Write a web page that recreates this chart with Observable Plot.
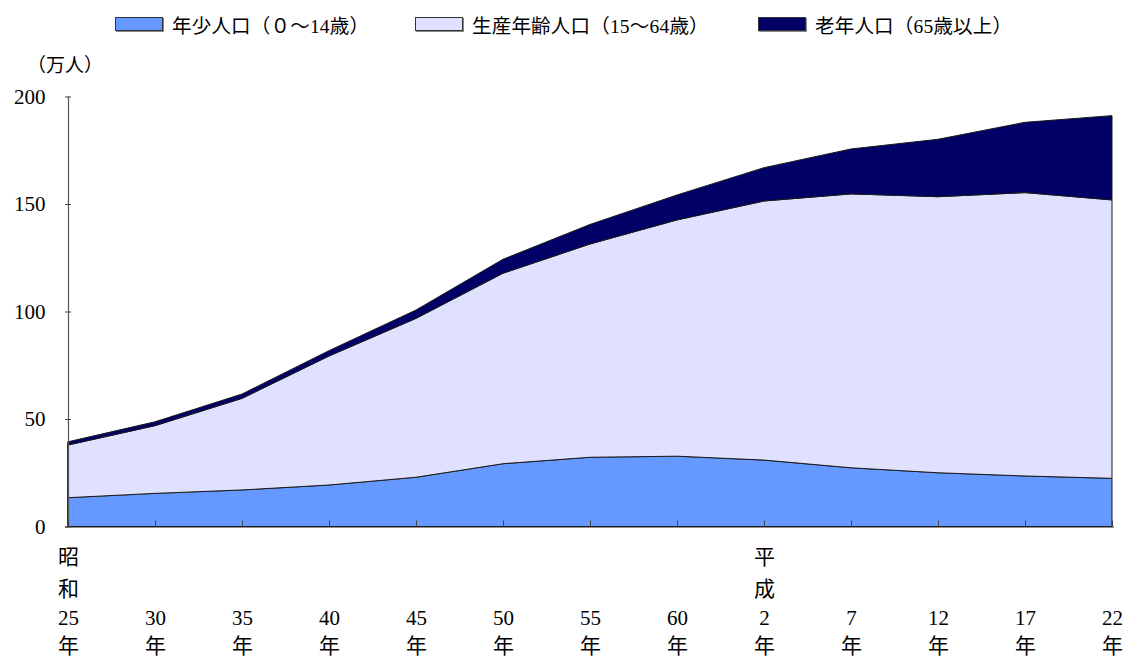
<!DOCTYPE html>
<html>
<head>
<meta charset="utf-8">
<script src="https://cdn.jsdelivr.net/npm/d3@7"></script>
<script src="https://cdn.jsdelivr.net/npm/@observablehq/plot@0.6"></script>
<style>
  body { margin: 0; background: #fff; }
  #wrap { position: relative; width: 1127px; height: 659px; font-family: "Liberation Serif", "Noto Sans CJK JP", serif; color: #000; }
  #wrap svg { position: absolute; left: 0; top: 0; }
  .lg { position: absolute; top: 12px; height: 24px; display: flex; align-items: center; font-size: 19.5px; white-space: nowrap; letter-spacing: 0.2px; }
  .sw { display: inline-block; width: 46px; height: 12px; border: 1px solid #333; box-shadow: 1px 1px 0 #888; margin-right: 9px; }
  .unit { position: absolute; left: 27px; top: 50px; font-size: 19px; }
</style>
</head>
<body>
<div id="wrap"></div>
<script>
// 年次（昭和25年〜平成22年）
const years = ["25", "30", "35", "40", "45", "50", "55", "60", "2", "7", "12", "17", "22"];
const eraLabels = { "25": "昭\n和", "2": "平\n成" };
// 万人
const young   = [13.4, 15.4, 17.0, 19.3, 22.9, 29.2, 32.2, 32.7, 30.9, 27.3, 25.0, 23.5, 22.4];
const working = [24.5, 31.5, 42.6, 60.0, 73.9, 88.6, 99.2, 109.9, 120.5, 127.4, 128.4, 131.8, 129.5];
const elderly = [1.5, 1.8, 2.0, 2.5, 3.9, 6.5, 9.1, 11.6, 15.5, 20.9, 26.7, 32.7, 39.2];
const groups = ["年少人口（０～14歳）", "生産年齢人口（15～64歳）", "老年人口（65歳以上）"];
const colors = ["#6699FF", "#E0E0FF", "#000066"];
const yTicks = [0, 50, 100, 150, 200];
const unitLabel = "（万人）";

const series = [young, working, elderly];
const table = [];
series.forEach((vals, gi) => {
  vals.forEach((v, i) => table.push({ year: years[i], group: groups[gi], value: v }));
});

const wrap = document.getElementById("wrap");

const chart = Plot.plot({
  width: 1127,
  height: 659,
  marginLeft: 65,
  marginRight: 13,
  marginTop: 96.5,
  marginBottom: 132.5,
  style: { fontSize: "21px", fontFamily: "'Liberation Serif', 'Noto Sans CJK JP', serif", background: "transparent", color: "#000" },
  x: { type: "point", domain: years, padding: 0, axis: null, label: null },
  y: { domain: [0, 200], axis: null, label: null },
  color: { domain: groups, range: colors },
  marks: [
    Plot.areaY(table, { x: "year", y: "value", fill: "group", z: "group", stroke: "#1a1a1a", strokeWidth: 1 }),
    Plot.ruleX([years[0]], { stroke: "#555", strokeWidth: 1.2 }),
    Plot.ruleY([0], { stroke: "#222", strokeWidth: 1.2 }),
    Plot.axisY(yTicks, { anchor: "left", label: null, tickSize: -6, tickPadding: 26, stroke: "#444" }),
    Plot.axisX(years, { anchor: "bottom", label: null, tickSize: -6, tickPadding: 84, tickFormat: d => d + "\n年", lineHeight: 1.35, stroke: "#444" }),
    Plot.axisX(years, { anchor: "bottom", label: null, tickSize: 0, tickPadding: 15, tickFormat: d => eraLabels[d] ?? "", lineHeight: 1.5 })
  ]
});
wrap.appendChild(chart);

// legend
const lgLeft = [115, 415, 758];
groups.forEach((g, i) => {
  const d = document.createElement("div");
  d.className = "lg";
  d.style.left = lgLeft[i] + "px";
  const s = document.createElement("span");
  s.className = "sw";
  s.style.background = colors[i];
  d.appendChild(s);
  d.appendChild(document.createTextNode(g));
  wrap.appendChild(d);
});
const u = document.createElement("div");
u.className = "unit";
u.textContent = unitLabel;
wrap.appendChild(u);
</script>
</body>
</html>
